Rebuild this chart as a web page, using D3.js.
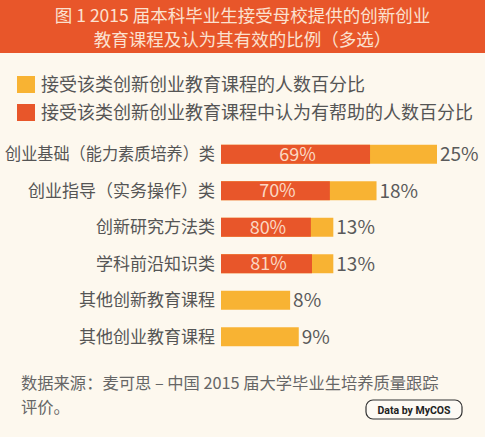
<!DOCTYPE html>
<html>
<head>
<meta charset="utf-8">
<script src="https://cdn.jsdelivr.net/npm/d3@7"></script>
<style>
  body { margin: 0; background: #fdf8ee; }
  text { font-family: "Noto Sans CJK SC", "Noto Sans", sans-serif; }
</style>
</head>
<body>
<script>
// data
var categories = ["创业基础（能力素质培养）类", "创业指导（实务操作）类", "创新研究方法类",
                  "学科前沿知识类", "其他创新教育课程", "其他创业教育课程"];
var accepted = [25, 18, 13, 13, 8, 9];          // 接受该类课程的人数百分比
var helpful = [69, 70, 80, 81, null, null];     // 其中认为有帮助的百分比
var titleLines = ["图 1 2015 届本科毕业生接受母校提供的创新创业", "教育课程及认为其有效的比例（多选）"];
var legendLabels = ["接受该类创新创业教育课程的人数百分比", "接受该类创新创业教育课程中认为有帮助的人数百分比"];
var sourceLines = ["数据来源：麦可思 – 中国 2015 届大学毕业生培养质量跟踪", "评价。"];

var W = 485, H = 437;
var orange = "#e8562a", yellow = "#f8b333";

var svg = d3.select("body").append("svg")
    .attr("width", W)
    .attr("height", H);

svg.append("rect").attr("width", W).attr("height", H).attr("fill", "#fdf8ee");

// header band
svg.append("rect").attr("width", W).attr("height", 53).attr("fill", orange);
svg.selectAll("text.title")
    .data(titleLines)
  .enter().append("text")
    .attr("class", "title")
    .attr("x", W / 2)
    .attr("y", function(d, i) { return 16 + i * 24; })
    .attr("dy", "0.35em")
    .attr("text-anchor", "middle")
    .attr("font-size", 17.5)
    .attr("fill", "#fbe1d0")
    .text(function(d) { return d; });

// legend
var legend = svg.selectAll("g.legend")
    .data(legendLabels)
  .enter().append("g")
    .attr("class", "legend")
    .attr("transform", function(d, i) { return "translate(17," + (76 + i * 28) + ")"; });
legend.append("rect")
    .attr("width", 18).attr("height", 17)
    .attr("fill", function(d, i) { return i == 0 ? yellow : orange; });
legend.append("text")
    .attr("x", 24).attr("y", 9)
    .attr("dy", "0.35em")
    .attr("font-size", 18)
    .attr("fill", "#555")
    .text(function(d) { return d; })
    .each(function() {
      // the reference runs 19px per glyph
      var n = d3.select(this).text().length;
      if (this.getComputedTextLength() > n * 19) {
        d3.select(this).attr("textLength", n * 19).attr("lengthAdjust", "spacingAndGlyphs");
      }
    });

// scales
var x = d3.scaleLinear().domain([0, 25]).range([221, 437]);
var y = d3.scaleBand().domain(categories).range([136, 355])
    .paddingInner(0.48).paddingOuter(0.24);

var rows = categories.map(function(c, i) {
  return {name: c, total: accepted[i], help: helpful[i]};
});

var row = svg.selectAll("g.row")
    .data(rows)
  .enter().append("g")
    .attr("class", "row");

row.append("rect")
    .attr("x", x(0))
    .attr("y", function(d) { return y(d.name); })
    .attr("width", function(d) { return x(d.total) - x(0); })
    .attr("height", y.bandwidth())
    .attr("fill", yellow);

row.filter(function(d) { return d.help != null; }).append("rect")
    .attr("x", x(0))
    .attr("y", function(d) { return y(d.name); })
    .attr("width", function(d) { return x(d.total * d.help / 100) - x(0); })
    .attr("height", y.bandwidth())
    .attr("fill", orange);

row.filter(function(d) { return d.help != null; }).append("text")
    .attr("x", function(d) { return (x(0) + x(d.total * d.help / 100)) / 2 + 2; })
    .attr("y", function(d) { return y(d.name) + y.bandwidth() / 2; })
    .attr("dy", "0.36em")
    .attr("text-anchor", "middle")
    .attr("font-size", 18)
    .attr("fill", "#fbd8c2")
    .text(function(d) { return d.help + "%"; });

row.append("text")
    .attr("x", function(d) { return x(d.total) + 3; })
    .attr("y", function(d) { return y(d.name) + y.bandwidth() / 2; })
    .attr("dy", "0.36em")
    .attr("font-size", 19)
    .attr("fill", "#5a5a5a")
    .text(function(d) { return d.total + "%"; });

// category labels
row.append("text")
    .attr("class", "cat")
    .attr("x", 215)
    .attr("y", function(d) { return y(d.name) + y.bandwidth() / 2; })
    .attr("dy", "0.36em")
    .attr("text-anchor", "end")
    .attr("font-size", 17)
    .attr("fill", "#555")
    .text(function(d) { return d.name; })
    .each(function() {
      // squeeze the long labels so they fit in the margin
      if (this.getComputedTextLength() > 210) {
        d3.select(this).attr("textLength", 210).attr("lengthAdjust", "spacingAndGlyphs");
      }
    });

// source note
svg.selectAll("text.source")
    .data(sourceLines)
  .enter().append("text")
    .attr("class", "source")
    .attr("x", 21)
    .attr("y", function(d, i) { return 383 + i * 24; })
    .attr("dy", "0.35em")
    .attr("font-size", 16.3)
    .attr("fill", "#666")
    .text(function(d) { return d; });

// badge
svg.append("rect")
    .attr("x", 366).attr("y", 400)
    .attr("width", 96).attr("height", 19)
    .attr("rx", 7)
    .attr("fill", "#fdfaf4")
    .attr("stroke", "#333")
    .attr("stroke-width", 1.2);
svg.append("text")
    .attr("x", 414).attr("y", 410)
    .attr("dy", "0.35em")
    .attr("text-anchor", "middle")
    .attr("font-size", 10.5)
    .attr("font-weight", "bold")
    .attr("fill", "#222")
    .style("font-family", "Roboto, sans-serif")
    .text("Data by MyCOS");
</script>
</body>
</html>
